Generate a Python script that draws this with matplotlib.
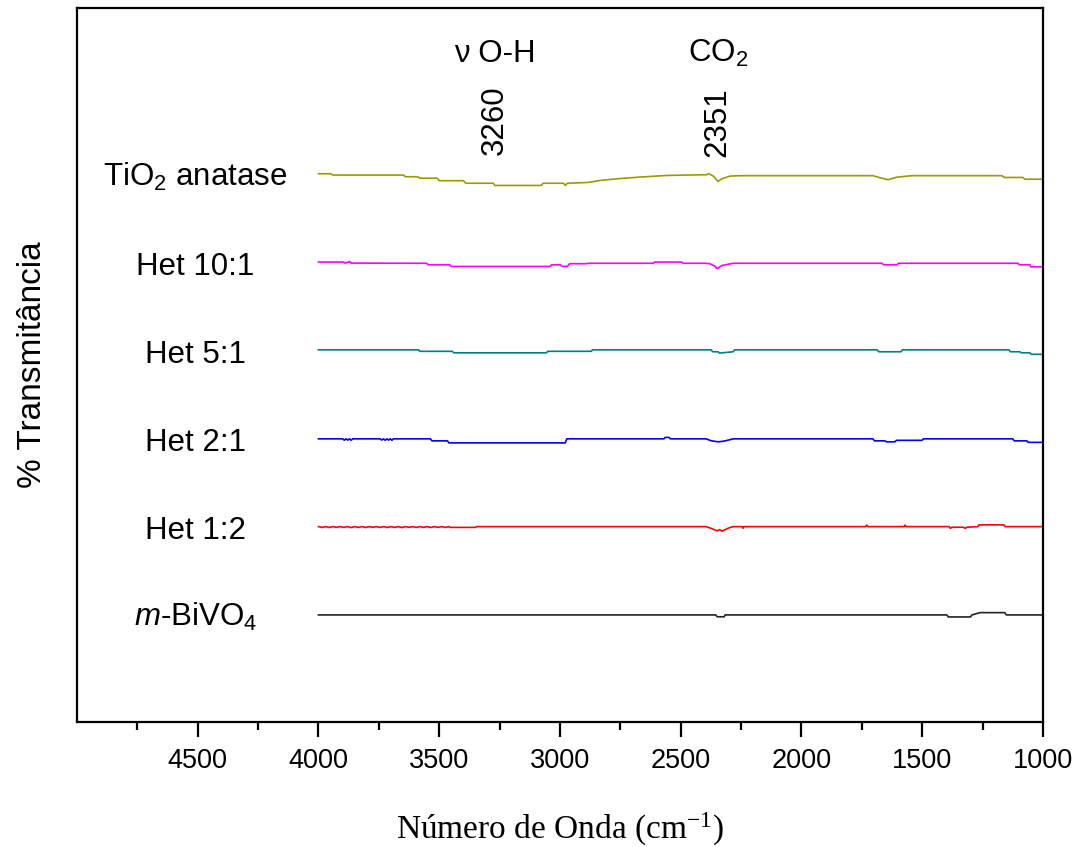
import matplotlib
matplotlib.use('Agg')
import matplotlib.pyplot as plt

plt.rcParams['font.family'] = ['Liberation Sans', 'DejaVu Sans']
plt.rcParams['mathtext.fontset'] = 'custom'
plt.rcParams['mathtext.rm'] = 'Liberation Sans'
plt.rcParams['mathtext.it'] = 'Liberation Sans:italic'
plt.rcParams['mathtext.default'] = 'regular'

# FTIR spectra (wavenumber, stacked transmittance, arbitrary offsets)
tio2_wn = [4000, 3950, 3940, 3648, 3640, 3590, 3580, 3508, 3500, 3400,
           3390, 3276, 3270, 3077, 3070, 2985, 2978, 2970, 2883, 2833,
           2763, 2676, 2556, 2391, 2385, 2365, 2345, 2330, 2296, 2254,
           1704, 1675, 1642, 1605, 1543, 1170, 1160, 1083, 1075, 1000]
tio2_t = [6.227, 6.227, 6.212, 6.212, 6.193, 6.193, 6.176, 6.176, 6.148, 6.148,
          6.119, 6.119, 6.094, 6.094, 6.119, 6.119, 6.094, 6.119, 6.128, 6.151,
          6.170, 6.188, 6.208, 6.216, 6.228, 6.200, 6.140, 6.170, 6.200, 6.205,
          6.205, 6.182, 6.159, 6.188, 6.205, 6.205, 6.185, 6.185, 6.165, 6.165]

h101_wn = [4000, 3897, 3890, 3870, 3865, 3553, 3545, 3458, 3450, 3040,
           3035, 3000, 2990, 2970, 2960, 2891, 2885, 2614, 2608, 2498,
           2490, 2399, 2380, 2360, 2349, 2330, 2283, 1667, 1660, 1605,
           1598, 1104, 1098, 1054, 1050, 1000]
h101_t = [5.224, 5.224, 5.212, 5.230, 5.212, 5.210, 5.193, 5.193, 5.174, 5.174,
          5.193, 5.193, 5.174, 5.174, 5.205, 5.205, 5.210, 5.210, 5.224, 5.224,
          5.210, 5.210, 5.205, 5.180, 5.148, 5.185, 5.210, 5.210, 5.193, 5.193,
          5.210, 5.210, 5.193, 5.193, 5.170, 5.170]

h51_wn = [4000, 3586, 3580, 3446, 3440, 3057, 3050, 2871, 2865, 2374,
          2368, 2345, 2340, 2283, 2277, 1687, 1680, 1588, 1582, 1141,
          1135, 1096, 1090, 1054, 1048, 1000]
h51_t = [4.227, 4.227, 4.210, 4.210, 4.193, 4.193, 4.210, 4.210, 4.227, 4.227,
         4.205, 4.205, 4.190, 4.205, 4.227, 4.227, 4.205, 4.205, 4.227, 4.227,
         4.205, 4.205, 4.193, 4.193, 4.176, 4.176]

h21_wn = [4000, 3900, 3893, 3886, 3879, 3872, 3865, 3858, 3830, 3745,
          3738, 3731, 3724, 3717, 3710, 3703, 3696, 3689, 3660, 3537,
          3530, 3466, 3460, 2978, 2972, 2570, 2565, 2548, 2543, 2395,
          2375, 2345, 2320, 2283, 1704, 1698, 1654, 1648, 1613, 1607,
          1501, 1495, 1125, 1119, 1067, 1061, 1000]
h21_t = [3.216, 3.216, 3.200, 3.216, 3.202, 3.216, 3.200, 3.216, 3.216, 3.216,
         3.202, 3.216, 3.200, 3.216, 3.202, 3.216, 3.200, 3.216, 3.216, 3.216,
         3.193, 3.193, 3.170, 3.170, 3.216, 3.216, 3.232, 3.232, 3.216, 3.216,
         3.195, 3.182, 3.190, 3.216, 3.216, 3.193, 3.193, 3.182, 3.182, 3.199,
         3.199, 3.216, 3.216, 3.193, 3.193, 3.176, 3.176]

h12_wn = [4000, 3985, 3970, 3955, 3940, 3925, 3910, 3895, 3880, 3865,
          3850, 3835, 3820, 3805, 3790, 3775, 3760, 3745, 3730, 3715,
          3700, 3685, 3670, 3655, 3640, 3625, 3610, 3595, 3580, 3565,
          3550, 3535, 3520, 3505, 3490, 3475, 3460,
          3455, 3351, 3345, 2395, 2375, 2349, 2340, 2329, 2300, 2283,
          2245, 2242, 2239, 1735, 1730, 1725, 1575, 1571, 1567, 1388,
          1384, 1376, 1330, 1322, 1315, 1270, 1265, 1162, 1157, 1000]
h12_t = [2.219, 2.210, 2.219, 2.209, 2.219, 2.211, 2.219, 2.210, 2.219, 2.208,
         2.219, 2.210, 2.219, 2.209, 2.219, 2.211, 2.219, 2.210, 2.219, 2.209,
         2.219, 2.210, 2.219, 2.208, 2.219, 2.211, 2.219, 2.210, 2.219, 2.210,
         2.219, 2.209, 2.219, 2.211, 2.219, 2.210, 2.219,
         2.210, 2.210, 2.219, 2.219, 2.200, 2.170, 2.185, 2.168, 2.205, 2.219,
         2.219, 2.200, 2.219, 2.219, 2.236, 2.219, 2.219, 2.236, 2.219, 2.219,
         2.199, 2.212, 2.212, 2.199, 2.212, 2.219, 2.239, 2.239, 2.219, 2.219]

bivo4_wn = [4000, 2355, 2349, 2320, 2316, 1398, 1392, 1300, 1294, 1270,
            1261, 1158, 1152, 1000]
bivo4_t = [1.216, 1.216, 1.195, 1.195, 1.216, 1.216, 1.193, 1.193, 1.216, 1.235,
           1.242, 1.242, 1.216, 1.216]

labels = ['TiO$_2$ anatase', 'Het 10:1', 'Het 5:1', 'Het 2:1', 'Het 1:2',
          '$\\mathit{m}$-BiVO$_4$']
label_y = [6.22, 5.21, 4.21, 3.21, 2.21, 1.22]
colors = ['#999900', '#ff00ff', '#008080', '#0000ff', '#ff0000', '#222222']

fig = plt.figure(figsize=(10.8, 8.47), dpi=100)
ax = fig.add_axes([0.0713, 0.1476, 0.8944, 0.843])

spectra = [(tio2_wn, tio2_t), (h101_wn, h101_t), (h51_wn, h51_t),
           (h21_wn, h21_t), (h12_wn, h12_t), (bivo4_wn, bivo4_t)]
for (wn, t), c in zip(spectra, colors):
    ax.plot(wn, t, color=c, lw=1.2)

for lab, y in zip(labels, label_y):
    ax.text(4510, y - 0.13, lab, ha='center', va='baseline', fontsize=22.5)

ax.text(3270, 7.5, 'ν O-H', ha='center', va='baseline', fontsize=22.5)
ax.text(2345, 7.5, 'CO$_2$', ha='center', va='baseline', fontsize=22.5)
ax.text(3270, 6.83, '3260', ha='center', va='center', rotation=90, fontsize=22.5)
ax.text(2349, 6.81, '2351', ha='center', va='center', rotation=90, fontsize=22.5)

ax.set_xlim(5000, 1000)
ax.set_ylim(0, 8.11)
ax.set_xticks([4500, 4000, 3500, 3000, 2500, 2000, 1500, 1000])
ax.set_xticks([4750, 4250, 3750, 3250, 2750, 2250, 1750, 1250], minor=True)
ax.set_yticks([])
ax.tick_params(axis='x', which='major', direction='out', length=11, width=1.6,
               labelsize=19.5, pad=8)
ax.tick_params(axis='x', which='minor', direction='out', length=5.5, width=1.6)
for s in ax.spines.values():
    s.set_linewidth(1.6)

ax.set_xlabel('Número de Onda (cm$^{\\mathregular{-1}}$)', family='Liberation Serif',
              fontsize=24)
ax.xaxis.set_label_coords(0.5, -0.125)
ax.set_ylabel('% Transmitância', fontsize=24)
ax.yaxis.set_label_coords(-0.03, 0.5)

fig.savefig('out.png', dpi=100)
